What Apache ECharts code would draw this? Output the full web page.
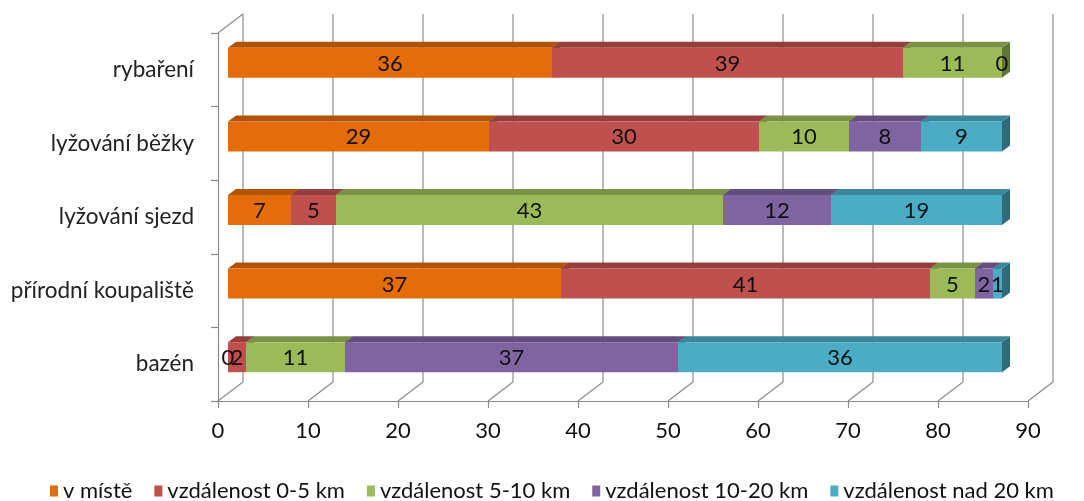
<!DOCTYPE html>
<html><head><meta charset="utf-8">
<script src="https://cdn.jsdelivr.net/npm/echarts@6/dist/echarts.min.js"></script>
<style>html,body{margin:0;padding:0;background:#fff}#c{width:1084px;height:501px}</style>
</head><body><div id="c"></div>
<script>
const categories = ['bazén', 'přírodní koupaliště', 'lyžování sjezd', 'lyžování běžky', 'rybaření'];
const seriesNames = ['v místě', 'vzdálenost 0-5 km', 'vzdálenost 5-10 km', 'vzdálenost 10-20 km', 'vzdálenost nad 20 km'];
const vMiste  = [0, 37, 7, 29, 36];
const d0_5    = [2, 41, 5, 30, 39];
const d5_10   = [11, 5, 43, 10, 11];
const d10_20  = [37, 2, 12, 8, 0];
const dNad20  = [36, 1, 19, 9, null];
const xTicks  = [0, 10, 20, 30, 40, 50, 60, 70, 80, 90];
const colors  = ['#E46C0A', '#C0504D', '#9BBB59', '#8064A2', '#4BACC6'];

const allSeries = [vMiste, d0_5, d5_10, d10_20, dNad20];
const DX = 25, DY = -19;      // depth of the 3D box
const BX = 10, BY = -7;       // bar front face offset
const BD = [8, -6];           // bar depth
const BH = 30;                // bar front face height
const FONT = 'Lato, "Open Sans", sans-serif';

function shade(hex, f) {
  const n = parseInt(hex.slice(1), 16);
  const r = Math.round(((n >> 16) & 255) * f), g = Math.round(((n >> 8) & 255) * f), b = Math.round((n & 255) * f);
  return 'rgb(' + r + ',' + g + ',' + b + ')';
}

const starts = allSeries.map(() => []);
for (let c = 0; c < categories.length; c++) {
  let acc = 0;
  for (let s = 0; s < allSeries.length; s++) {
    starts[s][c] = acc;
    acc += (allSeries[s][c] || 0);
  }
}

function wallRender(params, api) {
  const v = api.value(0);
  const cs = params.coordSys;
  const fx = api.coord([v, 0])[0];
  const by = cs.y + cs.height, ty = cs.y;
  const lines = [[fx, by, fx + DX, by + DY], [fx + DX, by + DY, fx + DX, ty + DY]];
  if (v === 0) lines.push([fx, ty, fx + DX, ty + DY]);
  return { type: 'group', children: lines.map(l => ({
    type: 'line', shape: { x1: l[0], y1: l[1], x2: l[2], y2: l[3] },
    style: { stroke: '#8a8a8a', lineWidth: 1.2 }
  })) };
}

function barRender(si) {
  const col = colors[si];
  return function (params, api) {
    const ci = api.value(0), st = api.value(1), val = api.value(2);
    if (isNaN(val)) return;
    const p0 = api.coord([st, ci]), p1 = api.coord([st + val, ci]);
    const x0 = p0[0] + BX, x1 = p1[0] + BX;
    const top = p0[1] + BY - BH / 2, bot = top + BH;
    const children = [];
    if (val > 0) {
      children.push({ type: 'polygon', shape: { points: [[x1, top], [x1 + BD[0], top + BD[1]], [x1 + BD[0], bot + BD[1]], [x1, bot]] }, style: { fill: shade(col, 0.62) } });
      children.push({ type: 'polygon', shape: { points: [[x0, top], [x1, top], [x1 + BD[0], top + BD[1]], [x0 + BD[0], top + BD[1]]] }, style: { fill: shade(col, 0.78) } });
      children.push({ type: 'rect', shape: { x: x0, y: top, width: x1 - x0, height: BH }, style: { fill: col } });
    }
    children.push({ type: 'text', z2: 100, style: { text: String(val), x: (x0 + x1) / 2, y: top + BH / 2 + 1, textAlign: 'center', textVerticalAlign: 'middle', fill: '#111', fontSize: 22, fontFamily: FONT } });
    return { type: 'group', children };
  };
}

const series = [{
  type: 'custom', name: '_wall', z: 1, silent: true,
  data: xTicks.map(v => [v, 0]), encode: { x: 0, y: 1 },
  renderItem: wallRender
}];
allSeries.forEach((arr, si) => {
  series.push({
    type: 'custom', name: seriesNames[si], z: 2,
    itemStyle: { color: colors[si] },
    data: arr.map((v, ci) => [ci, starts[si][ci], v == null ? '-' : v]),
    encode: { y: 0, x: [1, 2] },
    renderItem: barRender(si)
  });
});

const chart = echarts.init(document.getElementById('c'));
chart.setOption({
  animation: false,
  color: colors,
  grid: { left: 218, right: 56, top: 33, bottom: 100, containLabel: false },
  xAxis: {
    type: 'value', min: 0, max: 90, interval: 10,
    axisLine: { show: true, lineStyle: { color: '#8a8a8a', width: 1.2 } },
    axisTick: { show: true, length: 7, lineStyle: { color: '#8a8a8a', width: 1.2 } },
    splitLine: { show: false },
    axisLabel: { color: '#111', fontSize: 22, fontFamily: FONT, margin: 19 }
  },
  yAxis: {
    type: 'category', data: categories,
    axisLine: { show: true, lineStyle: { color: '#8a8a8a', width: 1.2 } },
    axisTick: { show: true, length: 7, lineStyle: { color: '#8a8a8a', width: 1.2 } },
    splitLine: { show: false },
    axisLabel: { color: '#222', fontSize: 22.5, fontFamily: FONT, margin: 24 }
  },
  legend: {
    data: seriesNames, top: 480, left: 50, width: 1034, padding: 0,
    icon: 'rect', itemWidth: 8, itemHeight: 11, itemGap: 22,
    textStyle: { color: '#111', fontSize: 22, fontFamily: FONT }
  },
  series
});
</script>
</body></html>
